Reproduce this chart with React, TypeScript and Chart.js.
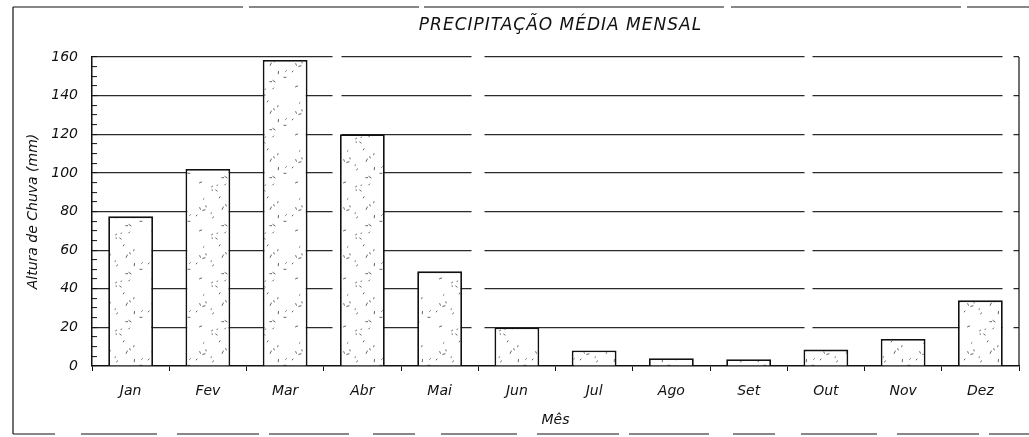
import React, { useEffect, useRef } from "react";
import { Chart, registerables } from "chart.js";

Chart.register(...registerables);

const months = ["Jan", "Fev", "Mar", "Abr", "Mai", "Jun", "Jul", "Ago", "Set", "Out", "Nov", "Dez"];
const rainfall = [77.5, 102, 158.5, 120, 49, 20, 8, 4, 3.5, 8.5, 14, 34];
const yMin = 0;
const yMax = 160;
const yMinorStep = 5;
const yMajorStep = 20;

const chartTitle = "PRECIPITAÇÃO MÉDIA MENSAL";
const yTitle = "Altura de Chuva (mm)";
const xTitle = "Mês";

const FONT = "'DejaVu Sans', 'Liberation Sans', sans-serif";
const INK = "#111";

function makeStipple(): CanvasPattern | string {
  const c = document.createElement("canvas");
  c.width = 48;
  c.height = 48;
  const g = c.getContext("2d");
  if (!g) return "#fff";
  g.fillStyle = "#fff";
  g.fillRect(0, 0, 48, 48);
  let s = 12345;
  const next = () => {
    s = (s * 1103515245 + 12345) % 2147483648;
    return s / 2147483648;
  };
  g.strokeStyle = "#555";
  g.lineWidth = 0.9;
  for (let i = 0; i < 22; i++) {
    const x = next() * 48;
    const y = next() * 48;
    const a = next() * Math.PI;
    const l = 1.5 + next() * 2;
    g.beginPath();
    g.moveTo(x, y);
    g.lineTo(x + Math.cos(a) * l, y + Math.sin(a) * l);
    g.stroke();
  }
  const p = g.createPattern(c, "repeat");
  return p || "#fff";
}

const framePlugin = {
  id: "frameAndTitle",
  beforeDraw(chart: any) {
    const { ctx } = chart;
    ctx.save();
    ctx.strokeStyle = INK;
    ctx.lineWidth = 1.2;
    ctx.beginPath();
    ctx.moveTo(13, 434);
    ctx.lineTo(13, 7);
    ctx.stroke();
    ctx.setLineDash([230, 6, 170, 5, 300, 7]);
    ctx.beginPath();
    ctx.moveTo(13, 7);
    ctx.lineTo(1029, 7);
    ctx.stroke();
    ctx.setLineDash([42, 26, 76, 20, 82, 10, 80, 24]);
    ctx.beginPath();
    ctx.moveTo(13, 434);
    ctx.lineTo(1029, 434);
    ctx.stroke();
    ctx.restore();
  },
  afterDraw(chart: any) {
    const { ctx, chartArea } = chart;
    ctx.save();
    ctx.strokeStyle = INK;
    ctx.lineWidth = 1.2;
    ctx.beginPath();
    ctx.moveTo(chartArea.right, chartArea.top);
    ctx.lineTo(chartArea.right, chartArea.bottom);
    ctx.stroke();
    ctx.fillStyle = INK;
    ctx.font = `italic 17px ${FONT}`;
    (ctx as any).letterSpacing = "1px";
    ctx.textAlign = "center";
    ctx.textBaseline = "alphabetic";
    ctx.fillText(chartTitle, (chartArea.left + chartArea.right) / 2 + 5, 30);
    ctx.restore();
  },
};

export default function App() {
  const ref = useRef<HTMLCanvasElement | null>(null);

  useEffect(() => {
    if (!ref.current) return;
    const stipple = makeStipple();
    const chart = new Chart(ref.current, {
      type: "bar",
      data: {
        labels: months,
        datasets: [
          {
            data: rainfall,
            backgroundColor: stipple as any,
            borderColor: INK,
            borderWidth: 1.8,
            barPercentage: 0.58,
            categoryPercentage: 1,
          },
        ],
      },
      options: {
        responsive: false,
        animation: false,
        layout: { padding: { top: 57, right: 10, bottom: 0, left: 0 } },
        plugins: {
          legend: { display: false },
          tooltip: { enabled: false },
          title: { display: false },
        },
        scales: {
          x: {
            offset: true,
            grid: {
              display: true,
              drawOnChartArea: false,
              drawTicks: true,
              tickLength: 5,
              tickColor: INK,
              offset: true,
            },
            border: { display: true, color: INK, width: 1.5 },
            ticks: {
              color: INK,
              padding: 12,
              font: { family: FONT, size: 14, style: "italic" },
              maxRotation: 0,
              autoSkip: false,
            },
            title: {
              display: true,
              text: xTitle,
              color: INK,
              font: { family: FONT, size: 14, style: "italic" },
              padding: { top: 0, bottom: 8 },
            },
            afterFit(scale: any) {
              scale.height = 71;
            },
          },
          y: {
            min: yMin,
            max: yMax,
            grid: {
              color: (c: any) =>
                c.tick && c.tick.value % yMajorStep === 0 && c.tick.value !== yMin ? "#2a2a2a" : "rgba(0,0,0,0)",
              lineWidth: 1.2,
              drawTicks: true,
              tickLength: -5,
              tickColor: INK,
              tickWidth: 1,
            },
            border: { display: true, color: INK, width: 1.5, dash: [240, 9, 130, 13, 320, 8, 190, 11] },
            ticks: {
              stepSize: yMinorStep,
              autoSkip: false,
              color: INK,
              padding: 19,
              font: { family: FONT, size: 14, style: "italic" },
              callback: (v: any) => (Number(v) % yMajorStep === 0 ? String(v) : ""),
            },
            title: {
              display: true,
              text: yTitle,
              color: INK,
              font: { family: FONT, size: 14, style: "italic" },
              padding: { top: 25, bottom: 0 },
            },
            afterFit(scale: any) {
              scale.width = 92;
            },
          },
        },
      },
      plugins: [framePlugin],
    });
    return () => chart.destroy();
  }, []);

  return (
    <div style={{ position: "absolute", left: 0, top: 0, width: 1029, height: 437, background: "#fff" }}>
      <canvas ref={ref} width={1029} height={437} />
    </div>
  );
}
